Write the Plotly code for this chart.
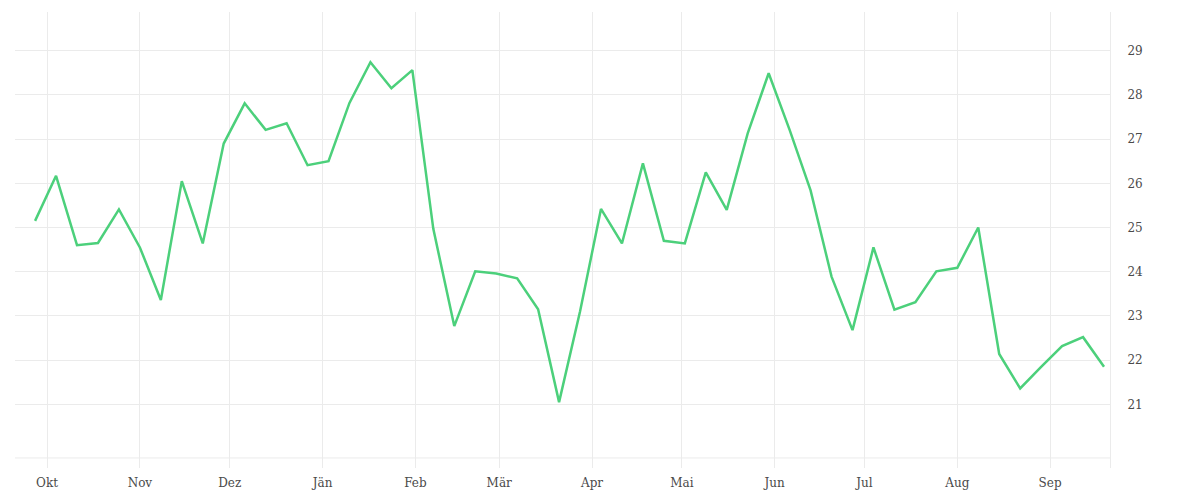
import pandas as pd
import plotly.graph_objects as go

# weekly values, one per week starting end of September
start_date = "2022-09-27"
values = [25.15, 26.17, 24.60, 24.65, 25.41, 24.55, 23.36, 26.05, 24.64, 26.90,
          27.81, 27.21, 27.36, 26.41, 26.50, 27.82, 28.74, 28.15, 28.56, 24.97,
          22.77, 24.01, 23.96, 23.85, 23.15, 21.05, 23.10, 25.42, 24.64, 26.45,
          24.70, 24.64, 26.25, 25.40, 27.13, 28.49, 27.21, 25.84, 23.89, 22.68,
          24.55, 23.14, 23.31, 24.01, 24.09, 25.00, 22.14, 21.36, 21.85, 22.32,
          22.52, 21.85]
dates = pd.date_range(start_date, periods=len(values), freq="7D")

month_ticks = pd.date_range("2022-10-01", "2023-09-01", freq="MS")
month_labels = ["Okt", "Nov", "Dez", "Jän", "Feb", "Mär", "Apr", "Mai",
                "Jun", "Jul", "Aug", "Sep"]
y_ticks = [21, 22, 23, 24, 25, 26, 27, 28, 29]

grid = "#ebebeb"

fig = go.Figure(go.Scatter(x=dates, y=values, mode="lines",
                           line=dict(color="#4cd07b", width=2.5),
                           hoverinfo="x+y"))

# page body has an 8px margin, so the figure is a bit smaller than the window
fig.update_layout(
    width=1184, height=484,
    margin=dict(l=7, r=82, t=4, b=24, autoexpand=False),
    plot_bgcolor="white", paper_bgcolor="white",
    font=dict(family="DejaVu Serif", size=12, color="#4a4a4a"),
    showlegend=False,
    xaxis=dict(range=["2022-09-20 07:00", "2023-09-21 00:00"],
               tickvals=month_ticks, ticktext=month_labels,
               showgrid=True, gridcolor=grid, gridwidth=1,
               zeroline=False, showline=False, automargin=False,
               ticks="outside", ticklen=4, tickcolor="rgba(0,0,0,0)"),
    yaxis=dict(side="right", range=[19.56, 29.876], automargin=False,
               tickvals=y_ticks, showgrid=True, gridcolor=grid, gridwidth=1,
               zeroline=False, showline=True, linecolor=grid, linewidth=1,
               ticks="outside", ticklen=14, tickcolor="rgba(0,0,0,0)"),
)

# bottom baseline a little above the plot edge
fig.add_shape(type="line", xref="paper", yref="paper", x0=0, x1=1,
              y0=0.022, y1=0.022, line=dict(color=grid, width=1), layer="below")

fig.write_html("out.html")
